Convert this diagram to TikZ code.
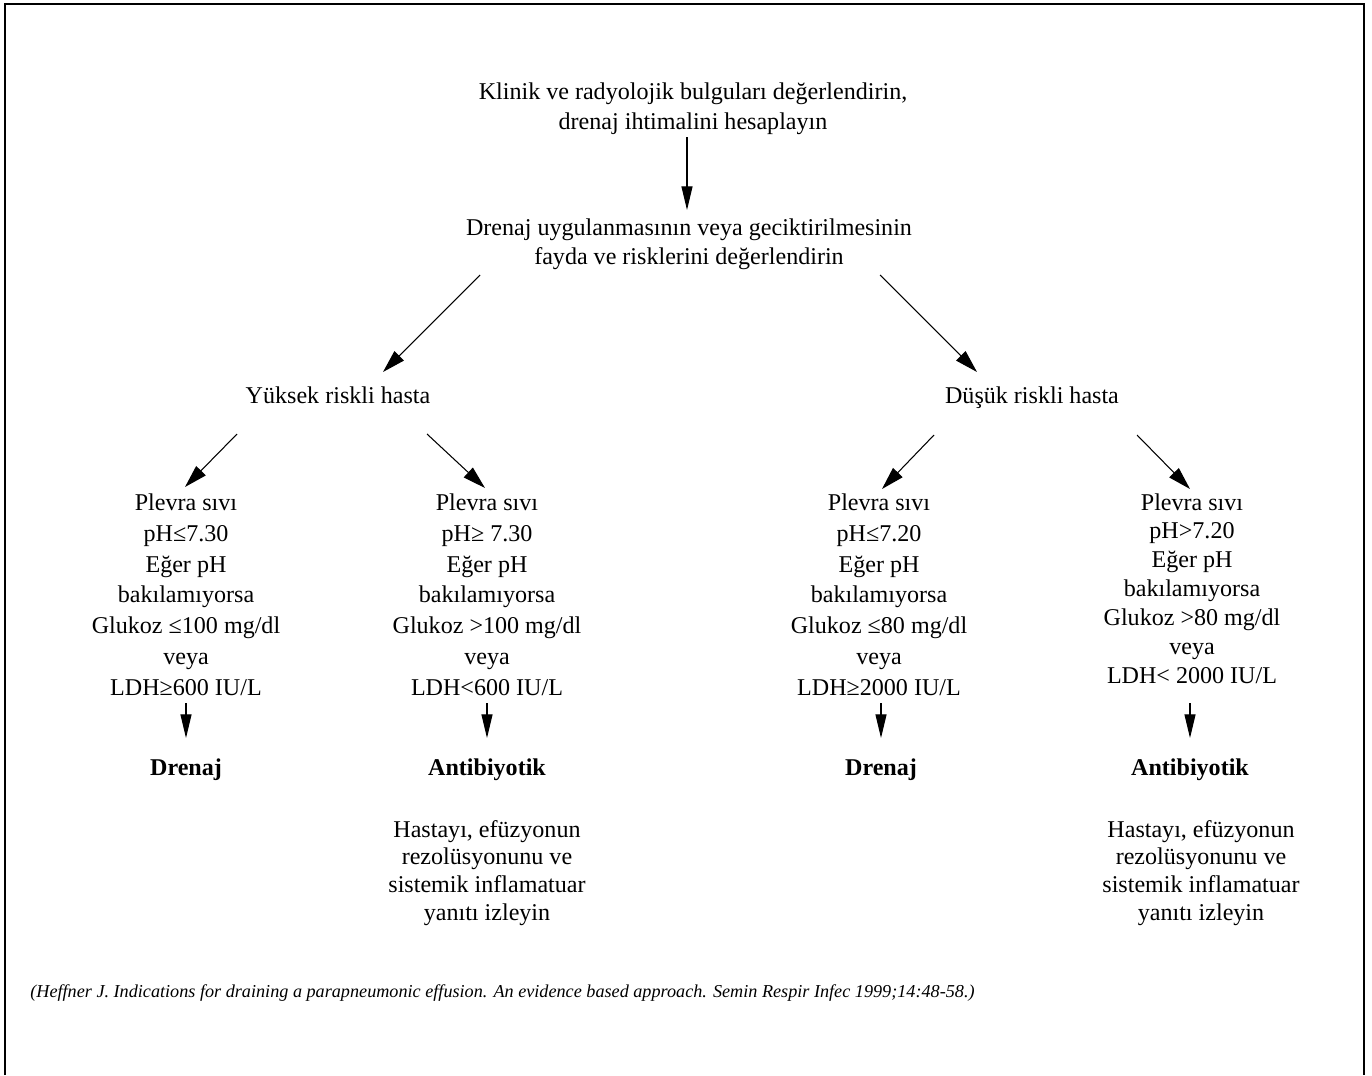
\documentclass[tikz,border=0pt]{standalone}
\usepackage{fontspec}
\setmainfont{Liberation Serif}
\usetikzlibrary{arrows.meta,calc}

\tikzset{
  txt/.style={inner sep=0pt, anchor=base, align=center,
    font=\fontsize{13.7pt}{17pt}\selectfont},
  crit/.style={txt, font=\fontsize{13.7pt}{17.5pt}\selectfont},
  critb/.style={txt, font=\fontsize{13.7pt}{16.4pt}\selectfont},
  res/.style={txt, font=\fontsize{13.7pt}{17pt}\selectfont\bfseries},
  mon/.style={txt, font=\fontsize{13.7pt}{15.7pt}\selectfont},
  arr/.style={-{Triangle[length=13pt,width=7.5pt]}, line width=0.6pt},
  varr/.style={-{Triangle[length=13.5pt,width=6.3pt]}, line width=0.6pt}
}

\begin{document}
\begin{tikzpicture}[x=0.02cm, y=-0.02cm]
\useasboundingbox (0,0) rectangle (1372,1075);
\draw[line width=1.2pt] (5,1075) -- (5,4) -- (1364,4) -- (1364,1075);

% top of the chart (base = last line)
\node[txt] (top) at (693,129) {Klinik ve radyolojik bulguları değerlendirin,\\drenaj ihtimalini hesaplayın};
\node[txt, font=\fontsize{13.7pt}{16.4pt}\selectfont] (q) at (689,264) {Drenaj uygulanmasının veya geciktirilmesinin\\fayda ve risklerini değerlendirin};

% risk groups
\node[txt] (yuk) at (338,403) {Yüksek riskli hasta};
\node[txt] (dus) at (1032,403) {Düşük riskli hasta};

% fluid criteria
\node[crit] (c1) at (186,695) {Plevra sıvı\\pH≤7.30\\Eğer pH\\bakılamıyorsa\\Glukoz ≤100 mg/dl\\veya\\LDH≥600 IU/L};
\node[crit] (c2) at (487,695) {Plevra sıvı\\pH≥ 7.30\\Eğer pH\\bakılamıyorsa\\Glukoz >100 mg/dl\\veya\\LDH<600 IU/L};
\node[crit] (c3) at (879,695) {Plevra sıvı\\pH≤7.20\\Eğer pH\\bakılamıyorsa\\Glukoz ≤80 mg/dl\\veya\\LDH≥2000 IU/L};
\node[critb] (c4) at (1192,683) {Plevra sıvı\\pH>7.20\\Eğer pH\\bakılamıyorsa\\Glukoz >80 mg/dl\\veya\\LDH< 2000 IU/L};

% decisions
\node[res] (dr1) at (186,775) {Drenaj};
\node[res] (ab2) at (487,775) {Antibiyotik};
\node[res] (dr3) at (881,775) {Drenaj};
\node[res] (ab4) at (1190,775) {Antibiyotik};

\node[mon] (mon2) at (487,920) {Hastayı, efüzyonun\\rezolüsyonunu ve\\sistemik inflamatuar\\yanıtı izleyin};
\node[mon] (mon4) at (1201,920) {Hastayı, efüzyonun\\rezolüsyonunu ve\\sistemik inflamatuar\\yanıtı izleyin};

\node[inner sep=0pt, anchor=base west, font=\fontsize{10.35pt}{12pt}\selectfont\itshape] (cite) at (30,997)
  {(Heffner J. Indications for draining a parapneumonic effusion. An evidence based approach. Semin Respir Infec 1999;14:48-58.)};

% arrows
\draw[varr] ($(top.base)+(-6,8)$) -- ($(q.base)+(-2,-54)$);
\draw[arr] ($(q.base)+(-209,11)$) -- ($(yuk.base)+(45,-31)$);
\draw[arr] ($(q.base)+(191,11)$) -- ($(dus.base)+(-55,-31)$);
\draw[arr] ($(yuk.base)+(-101,31)$) -- ($(c1.base)+(-1,-208)$);
\draw[arr] ($(yuk.base)+(89,31)$) -- ($(c2.base)+(-2,-207)$);
\draw[arr] ($(dus.base)+(-98,32)$) -- ($(c3.base)+(3,-206)$);
\draw[arr] ($(dus.base)+(105,32)$) -- ($(c4.base)+(-2,-194)$);
\draw[varr] ($(c1.base)+(0,8)$) -- ($(dr1.base)+(0,-37)$);
\draw[varr] ($(c2.base)+(0,8)$) -- ($(ab2.base)+(0,-37)$);
\draw[varr] ($(c3.base)+(2,8)$) -- ($(dr3.base)+(0,-37)$);
\draw[varr] ($(c4.base)+(-2,20)$) -- ($(ab4.base)+(0,-37)$);
\end{tikzpicture}
\end{document}
